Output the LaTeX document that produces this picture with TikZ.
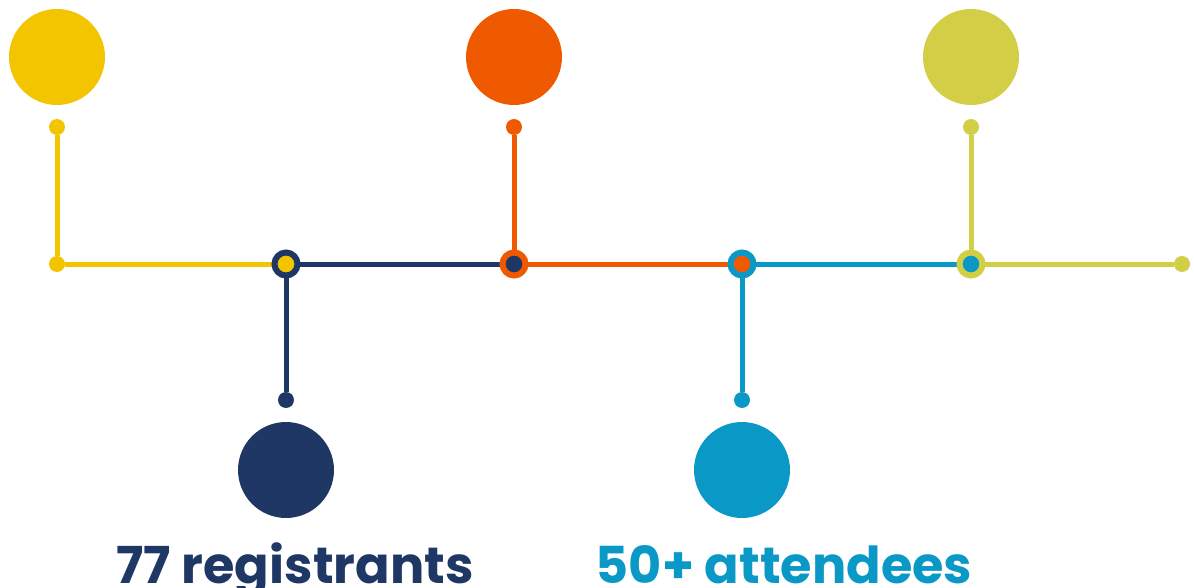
\documentclass[tikz,border=0pt]{standalone}
\usepackage{fontspec}
\setmainfont{Poppins}
\usetikzlibrary{positioning}
\definecolor{jaune}{HTML}{F2C500}
\definecolor{marine}{HTML}{1F3764}
\definecolor{orange}{HTML}{EF5A00}
\definecolor{bleu}{HTML}{0A98C6}
\definecolor{olive}{HTML}{D2CE45}
\tikzset{
  big/.style={circle, fill=#1, minimum size=1.92cm, inner sep=0pt},
  dot/.style={circle, fill=#1, minimum size=0.32cm, inner sep=0pt},
  ring/.style={circle, draw=#1, line width=0.12cm, minimum size=0.46cm, inner sep=0pt},
  trait/.style={draw=#1, line width=0.1cm},
  chiffre/.style={text=#1, font=\fontsize{29}{30}\selectfont\bfseries, anchor=base}
}
\begin{document}
\begin{tikzpicture}[x=0.02cm, y=-0.02cm]
        \useasboundingbox (0,0) rectangle (1194,588);
        % Grands cercles
        \node[big=jaune] (c1) at (57,57) {};
        \node[big=orange] (c3) at (514,57) {};
        \node[big=olive] (c5) at (971,57) {};
        \node[big=marine] (c2) at (286,470) {};
        \node[big=bleu] (c4) at (742,470) {};
        % Petits points
        \node[dot=jaune] (p1) at (57,127) {};
        \node[dot=orange] (p3) at (514,127) {};
        \node[dot=olive] (p5) at (971,127) {};
        \node[dot=marine] (p2) at (286,400) {};
        \node[dot=bleu] (p4) at (742,400) {};
        \node[dot=jaune] (debut) at (57,264) {};
        \node[dot=olive] (fin) at (1182,264) {};
        % Jonctions
        \coordinate (j1) at (286,264);
        \coordinate (j2) at (514,264);
        \coordinate (j3) at (742,264);
        \coordinate (j4) at (971,264);
        % Traits
        \draw[trait=jaune] (p1) -- (debut) -- (j1);
        \draw[trait=marine] (j1) -- (j2);
        \draw[trait=marine] (j1) -- (p2);
        \draw[trait=orange] (j2) -- (j3);
        \draw[trait=orange] (p3) -- (j2);
        \draw[trait=bleu] (j3) -- (j4);
        \draw[trait=bleu] (j3) -- (p4);
        \draw[trait=olive] (j4) -- (fin);
        \draw[trait=olive] (p5) -- (j4);
        % Anneaux
        \node[ring=marine, fill=jaune] (a1) at (j1) {};
        \node[ring=orange, fill=marine] (a2) at (j2) {};
        \node[ring=bleu, fill=orange] (a3) at (j3) {};
        \node[ring=olive, fill=bleu] (a4) at (j4) {};
        % Textes
        \node[chiffre=marine] (t1) at (295,583) {77 registrants};
        \node[chiffre=bleu] (t2) at (784,583) {50+ attendees};
    \end{tikzpicture}
\end{document}
